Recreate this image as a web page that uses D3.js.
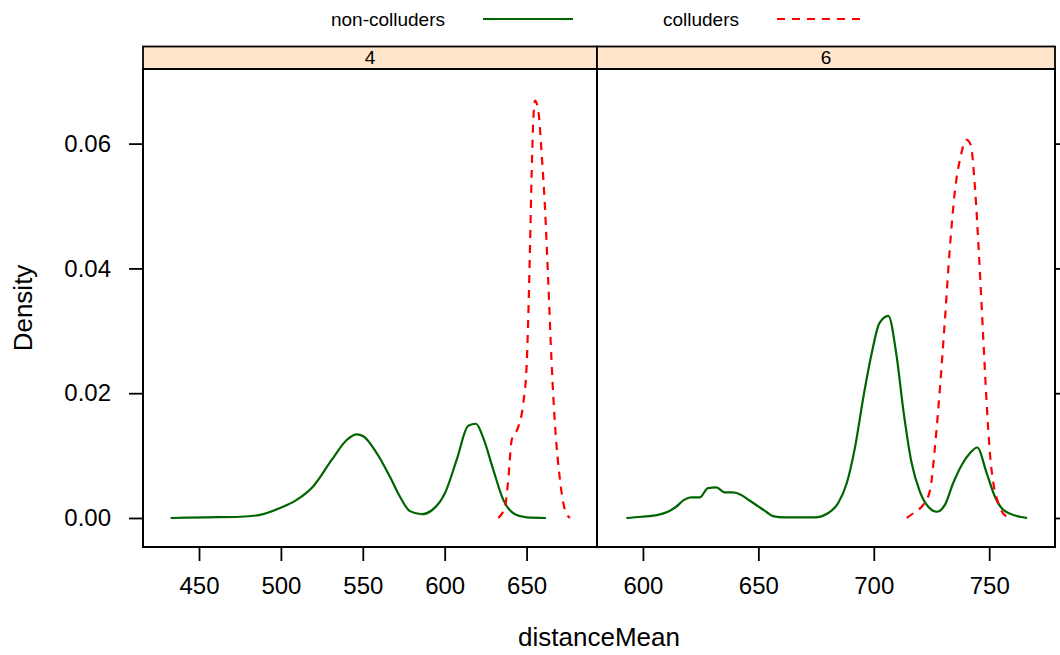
<!DOCTYPE html>
<html>
<head>
<meta charset="utf-8">
<script src="https://cdn.jsdelivr.net/npm/d3@7"></script>
<style>
  body { margin: 0; background: #fff; }
  svg text { font-family: "Liberation Sans", Arial, sans-serif; fill: #000; }
</style>
</head>
<body>
<div id="chart"></div>
<script>
// --- DATA ---
const panels = ["4", "6"];
const groups = ["non-colluders", "colluders"];

// panel "4"
const nonColl4X = [432.7, 454.7, 475, 487.2, 499.5, 509.6, 519.8, 531, 540.2, 546.3, 550.3, 558.5, 566.6, 572.7, 578.8, 586, 592, 600.2, 607.3, 614.4, 619.1, 623.6, 629.7, 635.8, 642.9, 650, 661.8];
const nonColl4Y = [0, 0.0001, 0.0002, 0.0005, 0.0016, 0.0029, 0.0051, 0.0093, 0.0125, 0.0134, 0.0131, 0.0104, 0.0066, 0.0034, 0.0011, 0.0006, 0.0012, 0.004, 0.0093, 0.0148, 0.0151, 0.0128, 0.0077, 0.0029, 0.0006, 0.0001, 0];
const coll4X = [632.7, 636.8, 638.8, 640.9, 644.9, 648, 650.1, 651.1, 652.1, 653.1, 654.1, 655.1, 657.1, 659.2, 661.2, 663.2, 665.3, 667.3, 670.4, 673.4, 676.5];
const coll4Y = [0, 0.0018, 0.0061, 0.0125, 0.0146, 0.0184, 0.0248, 0.0328, 0.0435, 0.0552, 0.0638, 0.0669, 0.0654, 0.0584, 0.0499, 0.0381, 0.0248, 0.0152, 0.0061, 0.0013, 0];

// panel "6"
const nonColl6X = [592.8, 599.3, 606.5, 610.8, 614.4, 617.8, 620.9, 624.6, 628.2, 631.8, 635.4, 639, 642.6, 646.2, 649.8, 653.4, 656.3, 661.4, 667.2, 674.4, 680.3, 684.6, 688.3, 691.9, 695.5, 699.1, 702.4, 706.3, 709.9, 712.8, 716.4, 720, 723.6, 727.3, 730.8, 734.4, 738.1, 741.7, 744.8, 748.9, 752.5, 756.1, 763.3, 766.4];
const nonColl6Y = [0, 0.0002, 0.0005, 0.001, 0.0018, 0.0029, 0.0033, 0.0033, 0.0048, 0.0049, 0.0041, 0.0041, 0.0037, 0.0028, 0.0019, 0.001, 0.0003, 0.0001, 0.0001, 0.0001, 0.0008, 0.0024, 0.0056, 0.0114, 0.0194, 0.0264, 0.0312, 0.0324, 0.0259, 0.0173, 0.0088, 0.0042, 0.0018, 0.001, 0.0021, 0.0056, 0.0085, 0.0104, 0.0113, 0.0072, 0.0034, 0.0013, 0.0002, 0];
const coll6X = [714.3, 717.9, 721.4, 724.4, 726.5, 728.7, 730.8, 733, 735.2, 737.3, 740.2, 742, 743.8, 745.7, 747.4, 748.9, 750.3, 751.8, 753.9, 757.6, 759.5];
const coll6Y = [0, 0.001, 0.0021, 0.0045, 0.0114, 0.021, 0.0317, 0.0435, 0.0526, 0.0574, 0.0606, 0.0598, 0.0531, 0.0413, 0.029, 0.0184, 0.0104, 0.0056, 0.0024, 0.0002, 0];

const xTicks4 = [450, 500, 550, 600, 650];
const xTicks6 = [600, 650, 700, 750];
const yTicks = [0, 0.02, 0.04, 0.06];
const xDomain4 = [415.8, 693];
const xDomain6 = [580.1, 778.5];
const yDomain = [-0.00465, 0.07196];

const zip = (xs, ys) => xs.map((x, i) => ({ x: x, y: ys[i] }));
const panelData = [
  { name: panels[0], domain: xDomain4, ticks: xTicks4, series: [zip(nonColl4X, nonColl4Y), zip(coll4X, coll4Y)] },
  { name: panels[1], domain: xDomain6, ticks: xTicks6, series: [zip(nonColl6X, nonColl6Y), zip(coll6X, coll6Y)] }
];

// --- LAYOUT ---
const width = 1060, height = 655;
const panelLeft = [143, 597];
const panelRight = [597, 1055];
const stripTop = 46.5, panelTop = 69, panelBottom = 547;
const tickLen = 14;

const lineColors = ["#006400", "#ff0000"];
const lineDash = [null, "8,7"];

const svg = d3.select("#chart").append("svg")
  .attr("width", width)
  .attr("height", height);

const y = d3.scaleLinear().domain(yDomain).range([panelBottom, panelTop]);

panelData.forEach((p, i) => {
  const x = d3.scaleLinear().domain(p.domain).range([panelLeft[i], panelRight[i]]);

  // strip
  svg.append("rect")
    .attr("x", panelLeft[i]).attr("y", stripTop)
    .attr("width", panelRight[i] - panelLeft[i]).attr("height", panelTop - stripTop)
    .attr("fill", "#ffe5cc").attr("stroke", "#000").attr("stroke-width", 1.8);
  svg.append("text")
    .attr("x", (panelLeft[i] + panelRight[i]) / 2).attr("y", panelTop - 5)
    .attr("text-anchor", "middle").attr("font-size", 19)
    .text(p.name);

  // curves
  const g = svg.append("g");
  const line = d3.line().x(d => x(d.x)).y(d => y(d.y)).curve(d3.curveMonotoneX);
  p.series.forEach((s, k) => {
    g.append("path")
      .datum(s)
      .attr("d", line)
      .attr("fill", "none")
      .attr("stroke", lineColors[k])
      .attr("stroke-width", 2.2)
      .attr("stroke-dasharray", lineDash[k]);
  });

  // panel border
  svg.append("rect")
    .attr("x", panelLeft[i]).attr("y", panelTop)
    .attr("width", panelRight[i] - panelLeft[i]).attr("height", panelBottom - panelTop)
    .attr("fill", "none").attr("stroke", "#000").attr("stroke-width", 2);

  // bottom axis
  const xAxis = svg.append("g")
    .attr("transform", `translate(0,${panelBottom})`)
    .call(d3.axisBottom(x).tickValues(p.ticks).tickSize(tickLen).tickPadding(16).tickFormat(d3.format("d")));
  xAxis.select(".domain").remove();
  xAxis.selectAll("line").attr("stroke", "#000").attr("stroke-width", 1.8);
  xAxis.selectAll("text").attr("font-size", 24).attr("font-family", null);
});

// y axis: labels left on first panel, bare ticks right on second
const yLeft = svg.append("g")
  .attr("transform", `translate(${panelLeft[0]},0)`)
  .call(d3.axisLeft(y).tickValues(yTicks).tickSize(tickLen).tickPadding(18).tickFormat(d3.format(".2f")));
yLeft.select(".domain").remove();
yLeft.selectAll("line").attr("stroke", "#000").attr("stroke-width", 1.8);
yLeft.selectAll("text").attr("font-size", 24).attr("font-family", null);

const yRight = svg.append("g")
  .attr("transform", `translate(${panelRight[1]},0)`)
  .call(d3.axisRight(y).tickValues(yTicks).tickSize(tickLen).tickFormat(""));
yRight.select(".domain").remove();
yRight.selectAll("line").attr("stroke", "#000").attr("stroke-width", 1.8);

// axis titles
svg.append("text")
  .attr("x", (panelLeft[0] + panelRight[1]) / 2).attr("y", 646)
  .attr("text-anchor", "middle").attr("font-size", 26)
  .text("distanceMean");
svg.append("text")
  .attr("transform", `translate(32,${(panelTop + panelBottom) / 2}) rotate(-90)`)
  .attr("text-anchor", "middle").attr("font-size", 26)
  .text("Density");

// legend
const legendText = [388, 701];
const legendLine = [[483, 573], [777, 862]];
groups.forEach((name, k) => {
  svg.append("text")
    .attr("x", legendText[k]).attr("y", 26)
    .attr("text-anchor", "middle").attr("font-size", 19)
    .text(name);
  svg.append("line")
    .attr("x1", legendLine[k][0]).attr("x2", legendLine[k][1])
    .attr("y1", 19).attr("y2", 19)
    .attr("stroke", lineColors[k]).attr("stroke-width", 2.2)
    .attr("stroke-dasharray", lineDash[k]);
});
</script>
</body>
</html>
